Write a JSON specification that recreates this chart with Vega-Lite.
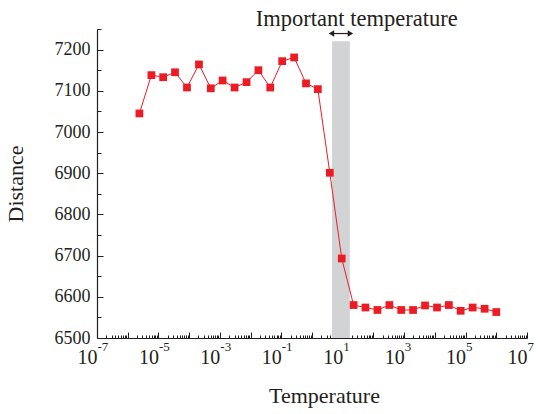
{
  "$schema": "https://vega.github.io/schema/vega-lite/v6.json",
  "width": 430,
  "height": 309,
  "autosize": {"type": "none"},
  "padding": {"left": 97, "top": 29, "right": 11, "bottom": 76},
  "background": "white",
  "config": {
    "view": {"stroke": null},
    "font": "Liberation Serif",
    "axis": {
      "labelFont": "Liberation Serif",
      "titleFont": "Liberation Serif",
      "labelColor": "#231f20",
      "titleColor": "#231f20",
      "domainColor": "#231f20",
      "tickColor": "#231f20",
      "titleFontWeight": "normal",
      "grid": false,
      "labelFlush": false
    }
  },
  "datasets": {
    "pts": [
      {"temperature": 2.4e-6, "distance": 7045},
      {"temperature": 5.9e-6, "distance": 7138},
      {"temperature": 1.43e-5, "distance": 7133},
      {"temperature": 3.47e-5, "distance": 7145},
      {"temperature": 8.5e-5, "distance": 7108},
      {"temperature": 2.09e-4, "distance": 7164},
      {"temperature": 5.07e-4, "distance": 7106},
      {"temperature": 1.23e-3, "distance": 7125},
      {"temperature": 3.02e-3, "distance": 7108},
      {"temperature": 7.4e-3, "distance": 7121},
      {"temperature": 0.018, "distance": 7150},
      {"temperature": 0.0437, "distance": 7108},
      {"temperature": 0.107, "distance": 7172},
      {"temperature": 0.263, "distance": 7181},
      {"temperature": 0.638, "distance": 7118},
      {"temperature": 1.55, "distance": 7104},
      {"temperature": 3.8, "distance": 6901},
      {"temperature": 9.3, "distance": 6693},
      {"temperature": 22.6, "distance": 6580},
      {"temperature": 55, "distance": 6574},
      {"temperature": 135, "distance": 6568},
      {"temperature": 331, "distance": 6580},
      {"temperature": 804, "distance": 6568},
      {"temperature": 1950, "distance": 6568},
      {"temperature": 4790, "distance": 6579},
      {"temperature": 11750, "distance": 6574},
      {"temperature": 28500, "distance": 6580},
      {"temperature": 69200, "distance": 6566},
      {"temperature": 170000, "distance": 6574},
      {"temperature": 417000, "distance": 6571},
      {"temperature": 1000000, "distance": 6563}
    ],
    "band": [{"t1": 4.5, "t2": 17, "d1": 6500, "d2": 7220}],
    "arrow": [{"t1": 4.3, "t2": 17.8, "d": 7239}],
    "heads": [
      {"t": 4.3, "d": 7239, "shape": "triangle-left"},
      {"t": 17.8, "d": 7239, "shape": "triangle-right"}
    ],
    "label": [{"t": 28.6, "d": 7257, "text": "Important temperature"}]
  },
  "layer": [
    {
      "data": {"name": "band"},
      "mark": {"type": "rect", "color": "#d1d3d4"},
      "encoding": {
        "x": {
          "field": "t1", "type": "quantitative",
          "scale": {"type": "log", "domain": [1e-7, 1e7], "nice": false},
          "axis": {
            "orient": "bottom",
            "values": [1e-7, 1e-5, 1e-3, 0.1, 10, 1000, 1e5, 1e7],
            "labelExpr": "'' + round(log(datum.value) / LN10)",
            "labelFontSize": 13,
            "labelAlign": "left",
            "labelBaseline": "top",
            "labelDx": 8.5,
            "labelPadding": 2,
            "ticks": false,
            "domain": false,
            "title": null
          }
        },
        "x2": {"field": "t2"},
        "y": {
          "field": "d1", "type": "quantitative",
          "scale": {"domain": [6500, 7250], "nice": false, "zero": false},
          "axis": null
        },
        "y2": {"field": "d2"}
      }
    },
    {
      "data": {"name": "pts"},
      "mark": {"type": "line", "color": "#ed1c24", "strokeWidth": 1},
      "encoding": {
        "x": {
          "field": "temperature", "type": "quantitative",
          "scale": {"type": "log", "domain": [1e-7, 1e7], "nice": false},
          "axis": {
            "orient": "bottom",
            "values": [1e-7,2e-7,3e-7,4e-7,5e-7,6e-7,7e-7,8e-7,9e-7,
                       1e-6,2e-6,3e-6,4e-6,5e-6,6e-6,7e-6,8e-6,9e-6,
                       1e-5,2e-5,3e-5,4e-5,5e-5,6e-5,7e-5,8e-5,9e-5,
                       1e-4,2e-4,3e-4,4e-4,5e-4,6e-4,7e-4,8e-4,9e-4,
                       1e-3,2e-3,3e-3,4e-3,5e-3,6e-3,7e-3,8e-3,9e-3,
                       0.01,0.02,0.03,0.04,0.05,0.06,0.07,0.08,0.09,
                       0.1,0.2,0.3,0.4,0.5,0.6,0.7,0.8,0.9,
                       1,2,3,4,5,6,7,8,9,
                       10,20,30,40,50,60,70,80,90,
                       100,200,300,400,500,600,700,800,900,
                       1000,2000,3000,4000,5000,6000,7000,8000,9000,
                       1e4,2e4,3e4,4e4,5e4,6e4,7e4,8e4,9e4,
                       1e5,2e5,3e5,4e5,5e5,6e5,7e5,8e5,9e5,
                       1e6,2e6,3e6,4e6,5e6,6e6,7e6,8e6,9e6,
                       1e7],
            "labels": false,
            "tickSize": {
              "condition": {"test": "abs(log(datum.value)/LN10 - round(log(datum.value)/LN10)) < 1e-6", "value": -6},
              "value": -3
            },
            "tickWidth": 1,
            "domainWidth": 1.2,
            "title": null
          }
        },
        "y": {
          "field": "distance", "type": "quantitative",
          "scale": {"domain": [6500, 7250], "nice": false, "zero": false},
          "axis": {
            "values": [6500,6550,6600,6650,6700,6750,6800,6850,6900,6950,7000,7050,7100,7150,7200,7250],
            "labelExpr": "datum.value % 100 == 0 ? format(datum.value, 'd') : ''",
            "labelFontSize": 18,
            "labelPadding": 13,
            "tickSize": {
              "condition": {"test": "datum.value % 100 == 0", "value": -6},
              "value": -4
            },
            "domainWidth": 1.2,
            "title": "Distance",
            "titleFontSize": 22,
            "titlePadding": 27
          }
        }
      }
    },
    {
      "data": {"name": "pts"},
      "mark": {"type": "point", "shape": "square", "filled": true, "color": "#ed1c24", "size": 60, "opacity": 1},
      "encoding": {
        "x": {
          "field": "temperature", "type": "quantitative",
          "scale": {"type": "log", "domain": [1e-7, 1e7], "nice": false},
          "axis": {
            "orient": "bottom",
            "values": [1e-7, 1e-5, 1e-3, 0.1, 10, 1000, 1e5, 1e7],
            "labelExpr": "'10'",
            "labelFontSize": 20,
            "labelAlign": "right",
            "labelBaseline": "top",
            "labelDx": 8,
            "labelPadding": 9,
            "ticks": false,
            "domain": false,
            "title": "Temperature",
            "titleFontSize": 22,
            "titleX": 227,
            "titlePadding": 18
          }
        },
        "y": {
          "field": "distance", "type": "quantitative",
          "scale": {"domain": [6500, 7250], "nice": false, "zero": false},
          "axis": null
        }
      }
    },
    {
      "data": {"name": "arrow"},
      "mark": {"type": "rule", "color": "#231f20", "strokeWidth": 1.2},
      "encoding": {
        "x": {"field": "t1", "type": "quantitative", "scale": {"type": "log", "domain": [1e-7, 1e7], "nice": false}, "axis": null},
        "x2": {"field": "t2"},
        "y": {"field": "d", "type": "quantitative", "scale": {"domain": [6500, 7250], "nice": false, "zero": false}, "axis": null}
      }
    },
    {
      "data": {"name": "heads"},
      "mark": {"type": "point", "filled": true, "color": "#231f20", "size": 40, "opacity": 1},
      "encoding": {
        "x": {"field": "t", "type": "quantitative", "scale": {"type": "log", "domain": [1e-7, 1e7], "nice": false}, "axis": null},
        "y": {"field": "d", "type": "quantitative", "scale": {"domain": [6500, 7250], "nice": false, "zero": false}, "axis": null},
        "shape": {"field": "shape", "type": "nominal", "scale": null}
      }
    },
    {
      "data": {"name": "label"},
      "mark": {"type": "text", "font": "Liberation Serif", "fontSize": 22.5, "align": "center", "baseline": "alphabetic", "color": "#231f20"},
      "encoding": {
        "x": {"field": "t", "type": "quantitative", "scale": {"type": "log", "domain": [1e-7, 1e7], "nice": false}, "axis": null},
        "y": {"field": "d", "type": "quantitative", "scale": {"domain": [6500, 7250], "nice": false, "zero": false}, "axis": null},
        "text": {"field": "text"}
      }
    }
  ],
  "resolve": {"axis": {"x": "independent", "y": "independent"}}
}
